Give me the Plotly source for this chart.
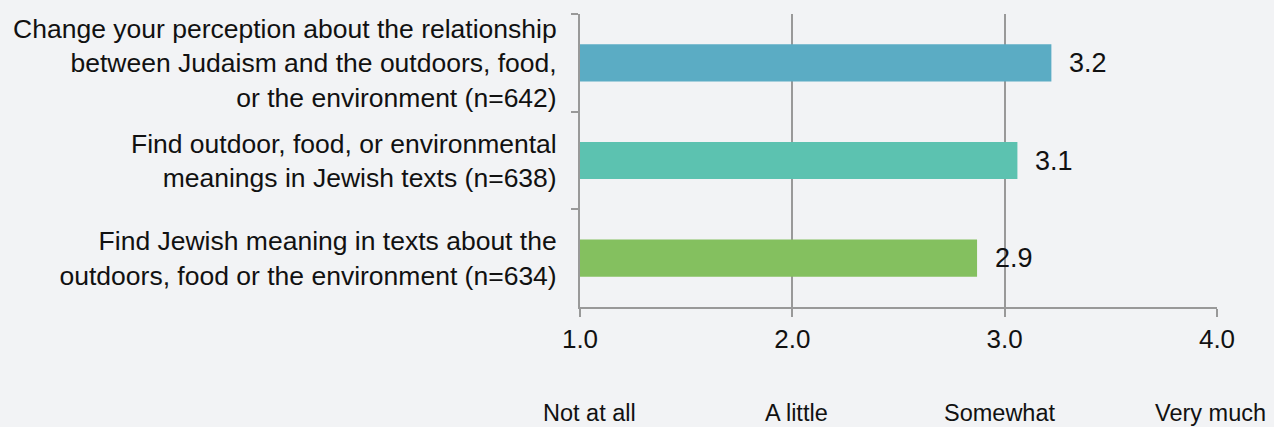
import plotly.graph_objects as go

categories = [
    "Change your perception about the relationship<br>between Judaism and the outdoors, food,<br>or the environment (n=642)",
    "Find outdoor, food, or environmental<br>meanings in Jewish texts (n=638)",
    "Find Jewish meaning in texts about the<br>outdoors, food or the environment (n=634)",
]
values = [3.22, 3.06, 2.87]
bar_colors = ["#5BACC4", "#5CC2B0", "#84C05F"]
tick_vals = [1, 2, 3, 4]
tick_text = ["1.0", "2.0", "3.0", "4.0"]
scale_labels = ["Not at all", "A little", "Somewhat", "Very much"]

BG = "#F2F3F5"
AXC = "#999999"
FONT = "Liberation Sans, Arial, sans-serif"
label_shifts = [9, 4, -5, -7]

fig = go.Figure()
fig.add_trace(go.Bar(
    y=categories, x=[v - 1 for v in values], base=1, orientation="h",
    marker=dict(color=bar_colors, line=dict(width=0)),
    width=0.38, hoverinfo="skip",
))

for c, v in zip(categories, values):
    fig.add_annotation(x=v, y=c, xref="x", yref="y", text=f"{v:.1f}",
                       showarrow=False, xanchor="left", xshift=16,
                       font=dict(size=27, color="#111111", family=FONT))

for tv, lab, sh in zip(tick_vals, scale_labels, label_shifts):
    fig.add_annotation(x=tv, y=0, xref="x", yref="paper", text=lab,
                       showarrow=False, xanchor="center", yanchor="middle",
                       yshift=-106, xshift=sh,
                       font=dict(size=23.5, color="#111111",
                                 family="Liberation Sans Narrow, Arial Narrow, Liberation Sans, sans-serif"))

fig.update_layout(
    width=1274, height=427,
    paper_bgcolor=BG, plot_bgcolor=BG,
    margin=dict(l=580, r=57, t=14, b=120),
    showlegend=False,
    font=dict(family=FONT, size=26, color="#111111"),
    xaxis=dict(range=[1, 4], tickvals=tick_vals, ticktext=tick_text,
               showgrid=True, gridcolor=AXC, gridwidth=2,
               showline=True, linecolor=AXC, linewidth=2,
               ticks="outside", ticklen=8, tickwidth=2, tickcolor=AXC,
               tickfont=dict(size=26, color="#111111"), zeroline=False,
               fixedrange=True),
    yaxis=dict(autorange="reversed", showline=True, linecolor=AXC, linewidth=2,
               ticks="outside", ticklen=7, tickwidth=2, tickcolor=AXC,
               tickson="boundaries", showgrid=False,
               tickfont=dict(size=26.5, color="#111111"),
               ticklabelstandoff=16, fixedrange=True),
)

fig.write_html("out.html", config={"displayModeBar": False},
               post_script="document.body.style.margin='0';document.body.style.background='#F2F3F5';")
